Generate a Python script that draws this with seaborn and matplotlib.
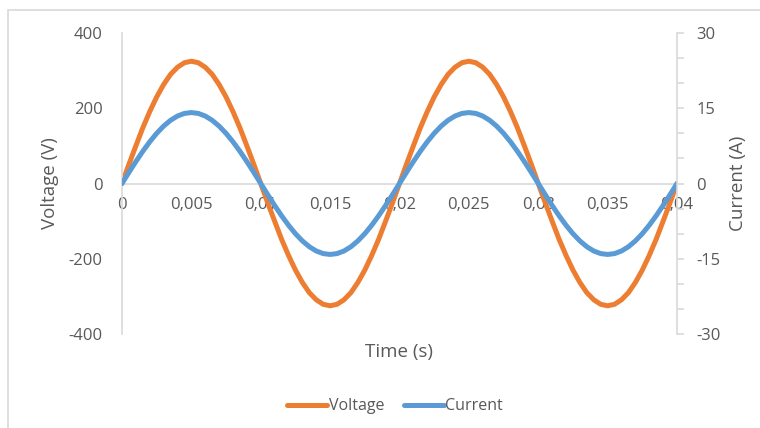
import numpy as np
import pandas as pd
import matplotlib
matplotlib.use("Agg")
import matplotlib.pyplot as plt
import seaborn as sns
from matplotlib.ticker import MultipleLocator
from matplotlib.patches import Rectangle

# DATA (0.5 ms steps)
time_s = [0.0000, 0.0005, 0.0010, 0.0015, 0.0020, 0.0025, 0.0030, 0.0035, 0.0040, 0.0045,
          0.0050, 0.0055, 0.0060, 0.0065, 0.0070, 0.0075, 0.0080, 0.0085, 0.0090, 0.0095,
          0.0100, 0.0105, 0.0110, 0.0115, 0.0120, 0.0125, 0.0130, 0.0135, 0.0140, 0.0145,
          0.0150, 0.0155, 0.0160, 0.0165, 0.0170, 0.0175, 0.0180, 0.0185, 0.0190, 0.0195,
          0.0200, 0.0205, 0.0210, 0.0215, 0.0220, 0.0225, 0.0230, 0.0235, 0.0240, 0.0245,
          0.0250, 0.0255, 0.0260, 0.0265, 0.0270, 0.0275, 0.0280, 0.0285, 0.0290, 0.0295,
          0.0300, 0.0305, 0.0310, 0.0315, 0.0320, 0.0325, 0.0330, 0.0335, 0.0340, 0.0345,
          0.0350, 0.0355, 0.0360, 0.0365, 0.0370, 0.0375, 0.0380, 0.0385, 0.0390, 0.0395,
          0.0400]
voltage = [0, 51, 100, 148, 191, 230, 263, 290, 309, 321,
           325, 321, 309, 290, 263, 230, 191, 148, 100, 51,
           0, -51, -100, -148, -191, -230, -263, -290, -309, -321,
           -325, -321, -309, -290, -263, -230, -191, -148, -100, -51,
           0, 51, 100, 148, 191, 230, 263, 290, 309, 321,
           325, 321, 309, 290, 263, 230, 191, 148, 100, 51,
           0, -51, -100, -148, -191, -230, -263, -290, -309, -321,
           -325, -321, -309, -290, -263, -230, -191, -148, -100, -51,
           0]
current = [0, 2.21, 4.37, 6.42, 8.31, 10.00, 11.44, 12.60, 13.45, 13.97,
           14.14, 13.97, 13.45, 12.60, 11.44, 10.00, 8.31, 6.42, 4.37, 2.21,
           0, -2.21, -4.37, -6.42, -8.31, -10.00, -11.44, -12.60, -13.45, -13.97,
           -14.14, -13.97, -13.45, -12.60, -11.44, -10.00, -8.31, -6.42, -4.37, -2.21,
           0, 2.21, 4.37, 6.42, 8.31, 10.00, 11.44, 12.60, 13.45, 13.97,
           14.14, 13.97, 13.45, 12.60, 11.44, 10.00, 8.31, 6.42, 4.37, 2.21,
           0, -2.21, -4.37, -6.42, -8.31, -10.00, -11.44, -12.60, -13.45, -13.97,
           -14.14, -13.97, -13.45, -12.60, -11.44, -10.00, -8.31, -6.42, -4.37, -2.21,
           0]

x_ticks = [0, 0.005, 0.01, 0.015, 0.02, 0.025, 0.03, 0.035, 0.04]
x_tick_labels = ["0", "0,005", "0,01", "0,015", "0,02", "0,025", "0,03", "0,035", "0,04"]
v_ticks = [-400, -200, 0, 200, 400]
i_ticks = [-30, -15, 0, 15, 30]

ORANGE = "#ED7D31"
BLUE = "#5B9BD5"
GRID = "#D9D9D9"
TEXT = "#595959"

sns.set_theme(style="white")
plt.rcParams['font.family'] = ['Open Sans', 'DejaVu Sans']
plt.rcParams['axes.unicode_minus'] = False

df = pd.DataFrame({"t": time_s, "V": voltage, "I": current})

fig = plt.figure(figsize=(7.6, 4.28), dpi=100)
ax = fig.add_axes([0.1605, 0.2196, 0.7303, 0.7033])
ax2 = ax.twinx()

sns.lineplot(data=df, x="t", y="V", ax=ax, color=ORANGE, lw=3.6, label="Voltage",
             legend=False, solid_joinstyle="round")
sns.lineplot(data=df, x="t", y="I", ax=ax2, color=BLUE, lw=3.6, label="Current",
             legend=False, solid_joinstyle="round")

ax.set_xlim(0, 0.04)
ax.set_ylim(-400, 400)
ax2.set_ylim(-30, 30)

# spines
for s in ["top", "right"]:
    ax.spines[s].set_visible(False)
for s in ["top", "left", "bottom"]:
    ax2.spines[s].set_visible(False)
ax.spines["left"].set_color(GRID)
ax.spines["bottom"].set_color(GRID)
ax.spines["bottom"].set_position(("data", 0))
ax2.spines["right"].set_color(GRID)
for s in [ax.spines["left"], ax.spines["bottom"], ax2.spines["right"]]:
    s.set_linewidth(1.2)
ax.set_axisbelow(True)

# x axis
ax.set_xticks(x_ticks)
ax.set_xticklabels(x_tick_labels)
ax.tick_params(axis="x", direction="inout", length=9, width=1.2, color=GRID,
               labelsize=12, labelcolor=TEXT, pad=5)

# left axis
ax.set_yticks(v_ticks)
ax.tick_params(axis="y", length=0, labelsize=12, labelcolor=TEXT, pad=14)

# right axis
ax2.set_yticks(i_ticks)
ax2.yaxis.set_minor_locator(MultipleLocator(5))
ax2.tick_params(axis="y", which="major", direction="out", length=5, width=1.2,
                color=GRID, labelsize=12, labelcolor=TEXT, pad=9)
ax2.tick_params(axis="y", which="minor", direction="out", length=5, width=1.2, color=GRID)

ax.set_xlabel("Time (s)", fontsize=13.5, color=TEXT)
ax.xaxis.set_label_coords(0.5, -0.06)
ax.xaxis.label.set_va("center")
ax.set_ylabel("Voltage (V)", fontsize=13.5, color=TEXT)
ax.yaxis.set_label_coords(-0.13, 0.5)
ax.yaxis.label.set_va("center")
ax2.set_ylabel("Current (A)", fontsize=13.5, color=TEXT)
ax2.yaxis.set_label_coords(1.11, 0.5)
ax2.yaxis.label.set_va("center")

h1, l1 = ax.get_legend_handles_labels()
h2, l2 = ax2.get_legend_handles_labels()
fig.legend(h1 + h2, l1 + l2, loc="center", bbox_to_anchor=(0.52, 0.051), ncol=2,
           frameon=False, fontsize=11.5, labelcolor=TEXT, handlelength=2.5,
           handletextpad=0.1, columnspacing=1.2)

fig.patches.append(Rectangle((8 / 760, -0.1), 1.0, 1 - 10 / 428 + 0.1,
                             transform=fig.transFigure, fill=False,
                             edgecolor=GRID, lw=1.2))

fig.savefig("out.png", dpi=100)
